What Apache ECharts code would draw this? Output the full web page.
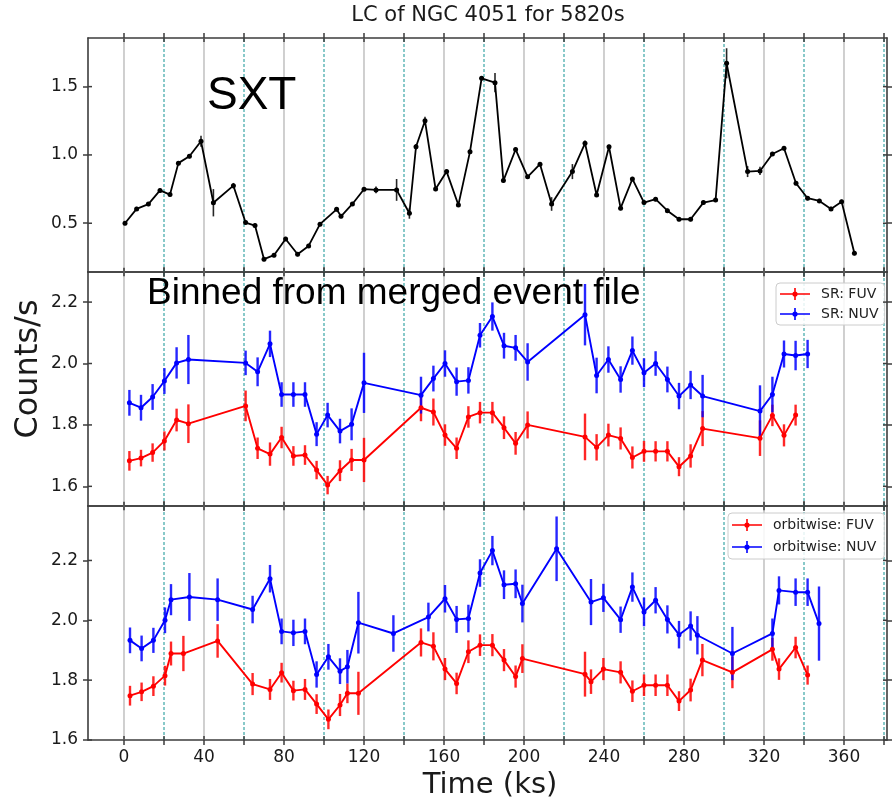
<!DOCTYPE html>
<html>
<head>
<meta charset="utf-8">
<script src="https://cdn.jsdelivr.net/npm/echarts@6/dist/echarts.min.js"></script>
<style>
  html, body { margin: 0; padding: 0; background: #ffffff; }
  #chart { width: 893px; height: 803px; }
</style>
</head>
<body>
<div id="chart"></div>
<script>
// ---- SXT light curve (top panel) ----
const sxtTime = [0.5, 6.3, 12.2, 18, 23, 27.2, 32.7, 38.5, 44.7, 54.7, 60.8, 65.5, 70, 75, 80.8, 86.8, 92.3, 98, 106.3, 108.5, 114.2, 120, 126, 136.3, 142.7, 146, 150.5, 155.8, 161.3, 167.2, 173, 178.8, 185.5, 189.7, 195.8, 201.8, 208, 213.8, 224.2, 230.5, 236.3, 242.5, 248.3, 254.2, 260, 265.8, 271.7, 277.5, 283.3, 289.7, 295.8, 301.3, 311.8, 318, 324.2, 330, 336, 341.8, 347.7, 353.5, 358.8, 365.2];
const sxtRate = [0.50, 0.605, 0.64, 0.74, 0.71, 0.94, 0.99, 1.10, 0.65, 0.775, 0.505, 0.483, 0.237, 0.266, 0.385, 0.273, 0.334, 0.493, 0.602, 0.551, 0.641, 0.749, 0.744, 0.744, 0.573, 1.06, 1.25, 0.75, 0.878, 0.634, 1.024, 1.561, 1.529, 0.812, 1.04, 0.84, 0.932, 0.641, 0.878, 1.085, 0.707, 1.06, 0.61, 0.824, 0.651, 0.676, 0.592, 0.529, 0.529, 0.651, 0.67, 1.671, 0.878, 0.883, 1.007, 1.049, 0.793, 0.683, 0.663, 0.605, 0.658, 0.28];
const sxtErr = [0.015, 0.015, 0.015, 0.015, 0.015, 0.015, 0.015, 0.04, 0.10, 0.02, 0.015, 0.015, 0.015, 0.015, 0.015, 0.015, 0.015, 0.015, 0.015, 0.015, 0.015, 0.015, 0.025, 0.08, 0.04, 0.02, 0.03, 0.015, 0.015, 0.015, 0.015, 0.015, 0.07, 0.015, 0.015, 0.015, 0.015, 0.05, 0.055, 0.02, 0.015, 0.015, 0.015, 0.015, 0.015, 0.015, 0.015, 0.015, 0.015, 0.015, 0.015, 0.11, 0.04, 0.03, 0.015, 0.015, 0.015, 0.015, 0.015, 0.015, 0.015, 0.015];

// ---- UVIT, binned from the merged event file (middle panel) ----
const srNuvTime = [2.7, 8.5, 14.3, 20.2, 26.3, 32.2, 60.8, 66.8, 73, 78.8, 84.7, 90.5, 96.3, 101.8, 108, 113.8, 120, 148.5, 154.7, 160.5, 166.3, 172.2, 178, 184.2, 190, 195.8, 201.8, 230.5, 236.3, 242.2, 248.3, 254.2, 260, 265.8, 271.7, 277.5, 283.3, 289.3, 318, 324.2, 330, 335.8, 341.8];
const srNuvRate = [1.872, 1.856, 1.891, 1.943, 2.002, 2.013, 2.002, 1.973, 2.064, 1.899, 1.899, 1.899, 1.77, 1.832, 1.78, 1.802, 1.937, 1.897, 1.951, 2.0, 1.941, 1.945, 2.092, 2.153, 2.058, 2.051, 2.005, 2.159, 1.961, 2.013, 1.948, 2.042, 1.97, 2.0, 1.948, 1.894, 1.93, 1.894, 1.845, 1.899, 2.031, 2.026, 2.031];
const srNuvErr = [0.042, 0.042, 0.042, 0.042, 0.051, 0.08, 0.04, 0.047, 0.043, 0.04, 0.04, 0.04, 0.039, 0.04, 0.04, 0.052, 0.098, 0.06, 0.042, 0.043, 0.046, 0.043, 0.04, 0.046, 0.042, 0.042, 0.061, 0.1, 0.058, 0.043, 0.043, 0.046, 0.047, 0.04, 0.042, 0.043, 0.046, 0.069, 0.084, 0.058, 0.044, 0.048, 0.046];

const srFuvTime = [2.7, 8.5, 14.3, 20.2, 26.3, 32.2, 60.8, 66.8, 73, 78.8, 84.7, 90.5, 96.3, 101.8, 108, 113.8, 120, 148.5, 154.7, 160.5, 166.3, 172.2, 178, 184.2, 190, 195.8, 201.8, 230.5, 236.3, 242.2, 248.3, 254.2, 260, 265.8, 271.7, 277.5, 283.3, 289.3, 318, 324.2, 330, 335.8];
const srFuvRate = [1.683, 1.692, 1.71, 1.748, 1.816, 1.804, 1.862, 1.724, 1.705, 1.759, 1.699, 1.702, 1.653, 1.604, 1.651, 1.686, 1.686, 1.856, 1.842, 1.767, 1.724, 1.826, 1.84, 1.84, 1.791, 1.74, 1.80, 1.761, 1.727, 1.767, 1.756, 1.694, 1.714, 1.714, 1.714, 1.664, 1.699, 1.788, 1.757, 1.831, 1.766, 1.832];
const srFuvErr = [0.032, 0.027, 0.03, 0.031, 0.037, 0.063, 0.05, 0.035, 0.038, 0.035, 0.032, 0.032, 0.03, 0.03, 0.034, 0.036, 0.072, 0.044, 0.044, 0.035, 0.035, 0.035, 0.035, 0.035, 0.037, 0.037, 0.044, 0.076, 0.043, 0.037, 0.036, 0.036, 0.034, 0.033, 0.033, 0.031, 0.038, 0.057, 0.058, 0.035, 0.036, 0.034];

// ---- UVIT, orbit-wise (bottom panel) ----
const obNuvTime = [3, 8.8, 14.7, 20.5, 23.5, 32.7, 46.8, 64.3, 73, 78.8, 84.7, 90.5, 96.3, 102.2, 108, 111.7, 117.2, 134.7, 152.2, 160.5, 166.3, 172.2, 178, 184.2, 190, 195.8, 199.2, 216.3, 233.5, 239.7, 248.3, 254.2, 260, 265.8, 271.7, 277.5, 283.3, 286.7, 304.2, 324.2, 327.5, 335.8, 341.8, 347.5];
const obNuvRate = [1.933, 1.906, 1.933, 2.0, 2.069, 2.078, 2.069, 2.036, 2.139, 1.963, 1.958, 1.963, 1.819, 1.878, 1.83, 1.845, 1.992, 1.956, 2.011, 2.072, 2.003, 2.006, 2.158, 2.233, 2.119, 2.122, 2.056, 2.239, 2.061, 2.075, 2.002, 2.111, 2.028, 2.067, 2.003, 1.952, 1.981, 1.95, 1.889, 1.956, 2.10, 2.094, 2.094, 1.989];
const obNuvErr = [0.043, 0.043, 0.042, 0.043, 0.052, 0.08, 0.071, 0.046, 0.046, 0.043, 0.044, 0.043, 0.044, 0.043, 0.043, 0.056, 0.103, 0.061, 0.048, 0.046, 0.045, 0.046, 0.046, 0.049, 0.048, 0.048, 0.063, 0.108, 0.077, 0.047, 0.044, 0.049, 0.048, 0.044, 0.047, 0.046, 0.049, 0.064, 0.089, 0.05, 0.047, 0.046, 0.046, 0.124];

const obFuvTime = [3, 8.8, 14.7, 20.5, 23.5, 29.7, 46.8, 64.3, 73, 78.8, 84.7, 90.5, 96.3, 102.2, 108, 111.7, 117.2, 148.5, 154.7, 160.5, 166.3, 172.2, 178, 184.2, 190, 195.8, 199.2, 230.5, 233.5, 239.7, 248.3, 254.2, 260, 265.8, 271.7, 277.5, 283.3, 289.2, 304.2, 324.2, 327.5, 335.8, 341.8];
const obFuvRate = [1.748, 1.761, 1.78, 1.815, 1.889, 1.889, 1.931, 1.787, 1.769, 1.825, 1.765, 1.769, 1.72, 1.669, 1.717, 1.756, 1.756, 1.926, 1.913, 1.837, 1.789, 1.895, 1.917, 1.917, 1.867, 1.812, 1.872, 1.82, 1.795, 1.837, 1.826, 1.763, 1.783, 1.783, 1.783, 1.73, 1.767, 1.867, 1.826, 1.903, 1.837, 1.909, 1.817];
const obFuvErr = [0.033, 0.031, 0.033, 0.033, 0.04, 0.059, 0.056, 0.037, 0.035, 0.033, 0.033, 0.035, 0.033, 0.033, 0.037, 0.033, 0.072, 0.047, 0.047, 0.037, 0.036, 0.038, 0.036, 0.037, 0.037, 0.037, 0.048, 0.075, 0.041, 0.037, 0.037, 0.036, 0.036, 0.036, 0.036, 0.033, 0.038, 0.054, 0.053, 0.038, 0.036, 0.036, 0.032];

// ---- ticks and reference lines ----
const xTicks = [0, 20, 40, 60, 80, 100, 120, 140, 160, 180, 200, 220, 240, 260, 280, 300, 320, 340, 360, 380];
const xTickLabels = [0, 40, 80, 120, 160, 200, 240, 280, 320, 360];
const solidGrid = [0, 40, 80, 120, 160, 200, 240, 280, 320, 360];
const dashedGrid = [20, 60, 100, 140, 180, 220, 260, 300, 340, 380];
const sxtTicks = [0.5, 1.0, 1.5];
const uvTicks = [1.6, 1.8, 2.0, 2.2];

const X_MIN = -18, X_MAX = 381.5;
const FRAME = '#3d3d3d';
const TICK_FONT = 'DejaVu Sans';

const panels = [
  { top: 38,  yMin: 0.143, yMax: 1.856, yTicks: sxtTicks },
  { top: 272, yMin: 1.536, yMax: 2.298, yTicks: uvTicks },
  { top: 506, yMin: 1.6,   yMax: 2.382, yTicks: uvTicks }
];

const zip = (t, v) => t.map((x, i) => [x, v[i]]);
const zipErr = (t, v, e) => t.map((x, i) => [x, v[i] - e[i], v[i] + e[i]]);

const grids = panels.map(p => ({ left: 88, right: 6, top: p.top, height: 234, containLabel: false }));

const xAxes = [], yAxes = [];
panels.forEach((p, i) => {
  const tickStyle = { color: FRAME, width: 1.5 };
  xAxes.push({
    gridIndex: i, type: 'value', position: 'bottom', min: X_MIN, max: X_MAX,
    axisLine: { show: true, onZero: false, lineStyle: { color: FRAME, width: 1.6 } },
    axisTick: { show: true, inside: false, length: 5, customValues: xTicks, lineStyle: tickStyle },
    axisLabel: { show: i === 2, customValues: xTickLabels, margin: 9, fontFamily: TICK_FONT, fontSize: 17, color: '#1a1a1a' },
    splitLine: { show: false }
  });
  xAxes.push({
    gridIndex: i, type: 'value', position: 'top', min: X_MIN, max: X_MAX,
    axisLine: { show: true, onZero: false, lineStyle: { color: FRAME, width: 1.6 } },
    axisTick: { show: true, inside: false, length: 5, customValues: xTicks, lineStyle: tickStyle },
    axisLabel: { show: false },
    splitLine: { show: false }
  });
  yAxes.push({
    gridIndex: i, type: 'value', position: 'left', min: p.yMin, max: p.yMax,
    axisLine: { show: true, onZero: false, lineStyle: { color: FRAME, width: 1.6 } },
    axisTick: { show: true, inside: false, length: 5, customValues: p.yTicks, lineStyle: tickStyle },
    axisLabel: { show: true, customValues: p.yTicks, margin: 10, fontFamily: TICK_FONT, fontSize: 17, color: '#1a1a1a',
                 formatter: v => Number(v).toFixed(1) },
    splitLine: { show: false }
  });
  yAxes.push({
    gridIndex: i, type: 'value', position: 'right', min: p.yMin, max: p.yMax,
    axisLine: { show: true, onZero: false, lineStyle: { color: FRAME, width: 1.6 } },
    axisTick: { show: true, inside: false, length: 5, customValues: p.yTicks, lineStyle: tickStyle },
    axisLabel: { show: false },
    splitLine: { show: false }
  });
});

const series = [];

// vertical reference lines at 40 ks steps (solid) and the offsets between them (dashed)
function refLines(i, values, style) {
  const p = panels[i];
  return {
    type: 'custom', xAxisIndex: 2 * i, yAxisIndex: 2 * i, silent: true, z: 1,
    data: values.map(v => [v, p.yMin]),
    renderItem: (params, api) => {
      const a = api.coord([api.value(0), p.yMin]);
      const b = api.coord([api.value(0), p.yMax]);
      return { type: 'line', shape: { x1: a[0], y1: a[1], x2: b[0], y2: b[1] }, style: style };
    }
  };
}

// inward half of the tick marks on all four sides
function innerTicks(i) {
  const p = panels[i];
  const data = xTicks.map(v => [v, 0]).concat(p.yTicks.map(v => [v, 1]));
  return {
    type: 'custom', xAxisIndex: 2 * i, yAxisIndex: 2 * i, silent: true, z: 6,
    data: data,
    renderItem: (params, api) => {
      const v = api.value(0), kind = api.value(1);
      const st = { stroke: FRAME, lineWidth: 1.5 };
      if (kind === 0) {
        const a = api.coord([v, p.yMin]), b = api.coord([v, p.yMax]);
        return { type: 'group', children: [
          { type: 'line', shape: { x1: a[0], y1: a[1], x2: a[0], y2: a[1] - 4 }, style: st },
          { type: 'line', shape: { x1: b[0], y1: b[1], x2: b[0], y2: b[1] + 4 }, style: st }
        ] };
      }
      const l = api.coord([X_MIN, v]), r = api.coord([X_MAX, v]);
      return { type: 'group', children: [
        { type: 'line', shape: { x1: l[0], y1: l[1], x2: l[0] + 4, y2: l[1] }, style: st },
        { type: 'line', shape: { x1: r[0], y1: r[1], x2: r[0] - 4, y2: r[1] }, style: st }
      ] };
    }
  };
}

function errorBars(i, data, color, width) {
  return {
    type: 'custom', xAxisIndex: 2 * i, yAxisIndex: 2 * i, silent: true, z: 3,
    data: data,
    renderItem: (params, api) => {
      const a = api.coord([api.value(0), api.value(1)]);
      const b = api.coord([api.value(0), api.value(2)]);
      return { type: 'line', shape: { x1: a[0], y1: a[1], x2: b[0], y2: b[1] },
               style: { stroke: color, lineWidth: width, opacity: 0.85 } };
    }
  };
}

function curve(i, name, data, color, lw, size) {
  return {
    type: 'line', name: name, xAxisIndex: 2 * i, yAxisIndex: 2 * i, z: 4,
    data: data, symbol: 'circle', symbolSize: size, showSymbol: true,
    lineStyle: { color: color, width: lw }, itemStyle: { color: color },
    emphasis: { disabled: true }
  };
}

panels.forEach((p, i) => {
  series.push(refLines(i, solidGrid, { stroke: '#c4c4c4', lineWidth: 1.6 }));
  series.push(refLines(i, dashedGrid, { stroke: '#3aa6a6', lineWidth: 1.2, lineDash: [3, 2] }));
  series.push(innerTicks(i));
});

series.push(errorBars(0, zipErr(sxtTime, sxtRate, sxtErr), '#000000', 1.6));
series.push(curve(0, 'SXT', zip(sxtTime, sxtRate), '#000000', 1.8, 5));

series.push(errorBars(1, zipErr(srFuvTime, srFuvRate, srFuvErr), '#ff0000', 2.4));
series.push(errorBars(1, zipErr(srNuvTime, srNuvRate, srNuvErr), '#0000ff', 2.4));
series.push(curve(1, 'SR: FUV', zip(srFuvTime, srFuvRate), '#ff0000', 1.9, 5));
series.push(curve(1, 'SR: NUV', zip(srNuvTime, srNuvRate), '#0000ff', 1.9, 5));

series.push(errorBars(2, zipErr(obFuvTime, obFuvRate, obFuvErr), '#ff0000', 2.4));
series.push(errorBars(2, zipErr(obNuvTime, obNuvRate, obNuvErr), '#0000ff', 2.4));
series.push(curve(2, 'orbitwise: FUV', zip(obFuvTime, obFuvRate), '#ff0000', 1.9, 5));
series.push(curve(2, 'orbitwise: NUV', zip(obNuvTime, obNuvRate), '#0000ff', 1.9, 5));

// legend marker: line with a dot and a vertical error tick
const errIcon = 'path://M0,5.2H30V6.8H0Z M14.2,0H15.8V12H14.2Z M17.6,6A2.6,2.6,0,1,1,12.4,6A2.6,2.6,0,1,1,17.6,6Z';
const legendBase = {
  orient: 'vertical', icon: errIcon, itemWidth: 30, itemHeight: 12, itemGap: 6,
  backgroundColor: 'rgba(255,255,255,0.85)', borderColor: '#cccccc', borderWidth: 1, borderRadius: 4,
  textStyle: { fontFamily: TICK_FONT, fontSize: 14, color: '#222222', padding: [0, 0, 0, 6] },
  selectedMode: false
};

const option = {
  animation: false,
  backgroundColor: '#ffffff',
  grid: grids,
  xAxis: xAxes,
  yAxis: yAxes,
  series: series,
  legend: [
    Object.assign({}, legendBase, { left: 776, top: 283, padding: [4, 6, 4, 4], data: ['SR: FUV', 'SR: NUV'] }),
    Object.assign({}, legendBase, { left: 728, top: 513, padding: [5, 8, 5, 4], itemGap: 8, data: ['orbitwise: FUV', 'orbitwise: NUV'] })
  ],
  graphic: [
    { type: 'text', x: 488, y: 16, z: 10,
      style: { text: 'LC of NGC 4051 for 5820s', fontFamily: TICK_FONT, fontSize: 21, fill: '#1a1a1a',
               textAlign: 'center', textVerticalAlign: 'middle' } },
    { type: 'text', x: 207, y: 96, z: 10,
      style: { text: 'SXT', fontFamily: 'Liberation Sans', fontSize: 46, fill: '#000000',
               textAlign: 'left', textVerticalAlign: 'middle' } },
    { type: 'text', x: 147, y: 294, z: 10,
      style: { text: 'Binned from merged event file', fontFamily: 'Liberation Sans', fontSize: 37, fill: '#000000',
               textAlign: 'left', textVerticalAlign: 'middle' } },
    { type: 'text', x: 29, y: 369, rotation: Math.PI / 2, z: 10,
      style: { text: 'Counts/s', fontFamily: TICK_FONT, fontSize: 32, fill: '#1a1a1a',
               textAlign: 'center', textVerticalAlign: 'middle' } },
    { type: 'text', x: 490, y: 785, z: 10,
      style: { text: 'Time (ks)', fontFamily: TICK_FONT, fontSize: 29, fill: '#1a1a1a',
               textAlign: 'center', textVerticalAlign: 'middle' } }
  ]
};

const chart = echarts.init(document.getElementById('chart'), null, { renderer: 'canvas' });
chart.setOption(option);
</script>
</body>
</html>
